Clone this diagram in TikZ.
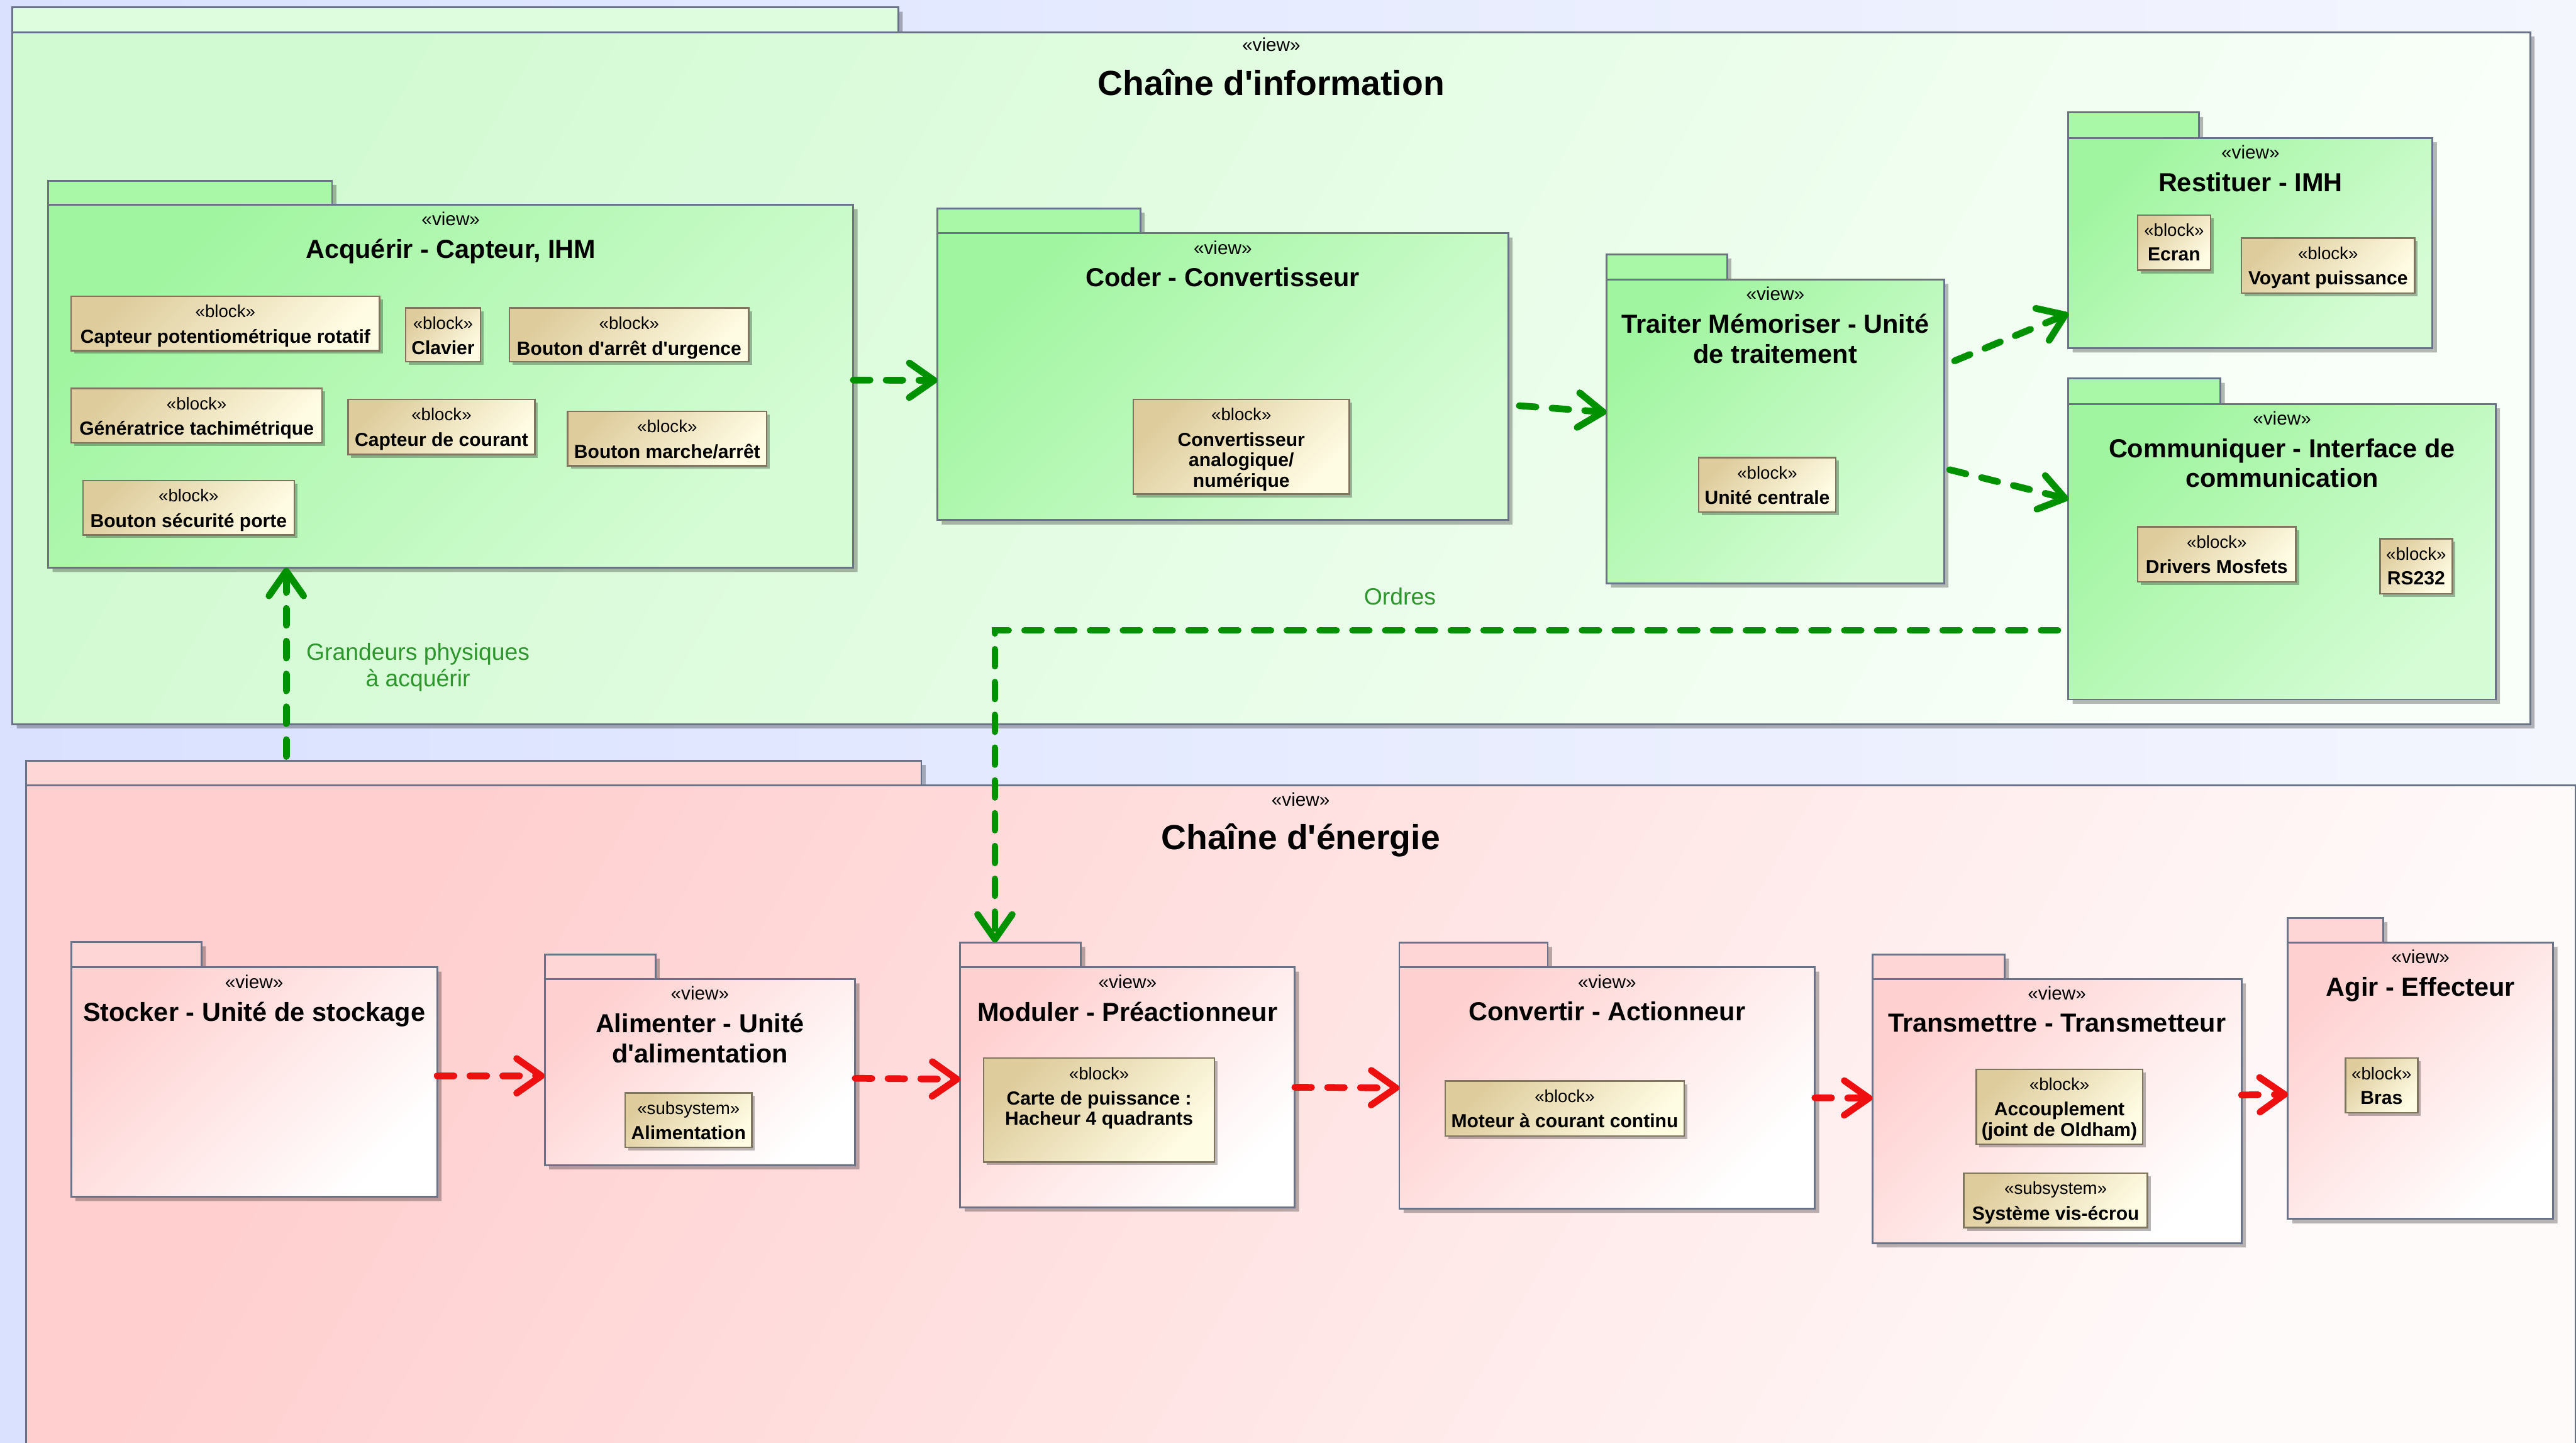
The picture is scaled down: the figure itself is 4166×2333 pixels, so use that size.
\documentclass[tikz,border=0pt]{standalone}
\usepackage{fontspec}
\setmainfont{Liberation Sans}
\newfontfamily\lsans{Liberation Sans}
\usetikzlibrary{arrows.meta,calc,fit}

% palette
\definecolor{bgL}{RGB}{217,225,255}
\definecolor{bgR}{RGB}{244,246,254}
\definecolor{ogL}{RGB}{210,250,210}
\definecolor{ogR}{RGB}{249,255,249}
\definecolor{ogTab}{RGB}{222,252,222}
\definecolor{igL}{RGB}{160,245,160}
\definecolor{igR}{RGB}{214,252,214}
\definecolor{igTab}{RGB}{168,248,168}
\definecolor{orL}{RGB}{255,206,206}
\definecolor{orR}{RGB}{255,250,250}
\definecolor{orTab}{RGB}{255,214,214}
\definecolor{irL}{RGB}{255,208,208}
\definecolor{irR}{RGB}{255,255,255}
\definecolor{irTab}{RGB}{255,214,214}
\definecolor{blkL}{RGB}{222,204,156}
\definecolor{blkR}{RGB}{255,252,228}
\definecolor{pkgborder}{RGB}{106,114,136}
\definecolor{blkborder}{RGB}{128,118,96}
\definecolor{flowgreen}{RGB}{0,145,0}
\definecolor{flowred}{RGB}{238,16,16}
\definecolor{lblgreen}{RGB}{45,150,45}

\tikzset{
  every node/.style={inner sep=0pt, outer sep=0pt},
  pkgline/.style={draw=pkgborder, line width=0.85pt},
  pkgshade/.style={fill=black, opacity=0.28},
  blkshade/.style={fill=black, opacity=0.28},
  ig body/.style={pkgline, left color=igL, right color=igR, shading angle=45},
  ig tab/.style={pkgline, fill=igTab},
  ir body/.style={pkgline, left color=irL, right color=irR, shading angle=45},
  ir tab/.style={pkgline, fill=irTab},
  og body/.style={pkgline, left color=ogL, right color=ogR, shading angle=60},
  og tab/.style={pkgline, fill=ogTab},
  or body/.style={pkgline, left color=orL, right color=orR, shading angle=60},
  or tab/.style={pkgline, fill=orTab},
  viewtxt/.style={font=\lsans\fontsize{8.6}{10}\selectfont, anchor=north},
  ttl/.style={font=\lsans\fontsize{12}{13.66}\selectfont\bfseries, align=center, anchor=north},
  bigttl/.style={font=\lsans\fontsize{16}{18}\selectfont\bfseries, align=center, anchor=north},
  ig view/.style={viewtxt, yshift=-0.12cm},
  ir view/.style={viewtxt, yshift=-0.12cm},
  og view/.style={viewtxt, yshift=-0.09cm},
  or view/.style={viewtxt, yshift=-0.11cm},
  ig title/.style={ttl, yshift=-0.56cm},
  ir title/.style={ttl, yshift=-0.56cm},
  og title/.style={bigttl, yshift=-0.60cm},
  or title/.style={bigttl, yshift=-0.62cm},
  blockbox/.style={draw=blkborder, line width=0.7pt, left color=blkL, right color=blkR, shading angle=45},
  sttxt/.style={font=\lsans\fontsize{8}{9}\selectfont, anchor=north, yshift=-0.14cm},
  blktxt/.style={font=\lsans\fontsize{8.7}{9.4}\selectfont\bfseries, align=center, anchor=north, yshift=-0.53cm},
  flow/.style={line width=3.1pt, dash pattern=on 0.27cm off 0.26cm, line cap=round,
    -{Straight Barb[length=4mm, width=5.6mm, round]}},
  gflow/.style={flow, draw=flowgreen},
  rflow/.style={flow, draw=flowred},
  lbl/.style={text=lblgreen, font=\lsans\fontsize{10.8}{11.95}\selectfont, align=center},
}

% package: name, left, tab right, tab top, body top, right, bottom, kind, title
\newcommand\umlpkg[9]{%
  \fill[pkgshade] (#2+7,#4+7) -- (#3+7,#4+7) -- (#3+7,#5+7) -- (#6+7,#5+7)
    -- (#6+7,#7+7) -- (#2+7,#7+7) -- cycle;
  \coordinate (#1-c) at (#2,#4);
  \coordinate (#1-d) at (#3,#5);
  \coordinate (#1-a) at (#2,#5);
  \coordinate (#1-b) at (#6,#7);
  \node[#8 tab, fit=(#1-c)(#1-d)] (#1-tab) {};
  \node[#8 body, fit=(#1-a)(#1-b)] (#1) {};
  \node[#8 view] at (#1.north) {«view»};
  \node[#8 title] at (#1.north) {#9};
}

% block: name, left, top, right, bottom, stereotype, text
\newcommand\umlblock[7]{%
  \fill[blkshade] (#2+5,#3+5) rectangle (#4+5,#5+5);
  \coordinate (#1-a) at (#2,#3);
  \coordinate (#1-b) at (#4,#5);
  \node[blockbox, fit=(#1-a)(#1-b)] (#1) {};
  \node[sttxt] at (#1.north) {«#6»};
  \node[blktxt] at (#1.north) {#7};
}

\begin{document}
\begin{tikzpicture}[x=0.01cm, y=-0.01cm]
\useasboundingbox (0,0) rectangle (4166,2333);
\clip (0,0) rectangle (4166,2333);
\shade[left color=bgL, right color=bgR] (0,0) rectangle (4166,2333);

% ---------- information chain ----------
\umlpkg{info}{20}{1453}{12}{52}{4092}{1171}{og}{Chaîne d'information}

\umlpkg{acq}{78}{537}{292}{331}{1380}{918}{ig}{Acquérir - Capteur, IHM}
\umlblock{cpot}{115}{479}{614}{567}{block}{Capteur potentiométrique rotatif}
\umlblock{clav}{656}{498}{777}{585}{block}{Clavier}
\umlblock{urg}{824}{498}{1211}{585}{block}{Bouton d'arrêt d'urgence}
\umlblock{gtach}{115}{628}{521}{716}{block}{Génératrice tachimétrique}
\umlblock{ccour}{563}{646}{865}{735}{block}{Capteur de courant}
\umlblock{bma}{918}{665}{1240}{753}{block}{Bouton marche/arrêt}
\umlblock{bsec}{134}{777}{476}{865}{block}{Bouton sécurité porte}

\umlpkg{coder}{1516}{1844}{337}{377}{2439}{841}{ig}{Coder - Convertisseur}
\umlblock{can}{1833}{646}{2182}{799}{block}{Convertisseur\\analogique/\\numérique}

\umlpkg{trait}{2598}{2793}{411}{452}{3144}{943}{ig}{Traiter Mémoriser - Unité\\de traitement}
\umlblock{uc}{2747}{740}{2969}{828}{block}{Unité centrale}

\umlpkg{rest}{3345}{3556}{182}{223}{3934}{563}{ig}{Restituer - IMH}
\umlblock{ecran}{3457}{348}{3575}{437}{block}{Ecran}
\umlblock{voyant}{3625}{385}{3905}{474}{block}{Voyant puissance}

\umlpkg{comm}{3345}{3591}{612}{653}{4036}{1131}{ig}{Communiquer - Interface de\\communication}
\umlblock{drv}{3457}{852}{3713}{941}{block}{Drivers Mosfets}
\umlblock{rs}{3849}{871}{3966}{960}{block}{RS232}

% ---------- energy chain ----------
\umlpkg{energ}{42}{1490}{1230}{1270}{4165}{2400}{or}{Chaîne d'énergie}

\umlpkg{stock}{115}{326}{1523}{1564}{707}{1935}{ir}{Stocker - Unité de stockage}

\umlpkg{alim}{881}{1060}{1543}{1583}{1383}{1884}{ir}{Alimenter - Unité\\d'alimentation}
\umlblock{alimss}{1011}{1767}{1216}{1855}{subsystem}{Alimentation}

\umlpkg{modul}{1553}{1748}{1524}{1564}{2094}{1952}{ir}{Moduler - Préactionneur}
\umlblock{hach}{1591}{1711}{1964}{1879}{block}{Carte de puissance :\\Hacheur 4 quadrants}

\umlpkg{conv}{2263}{2503}{1524}{1564}{2935}{1954}{ir}{Convertir - Actionneur}
\umlblock{mcc}{2337}{1748}{2724}{1837}{block}{Moteur à courant continu}

\umlpkg{trans}{3028}{3242}{1543}{1583}{3625}{2010}{ir}{Transmettre - Transmetteur}
\umlblock{oldham}{3196}{1729}{3465}{1850}{block}{Accouplement\\(joint de Oldham)}
\umlblock{visec}{3176}{1897}{3473}{1985}{subsystem}{Système vis-écrou}

\umlpkg{agir}{3700}{3854}{1484}{1524}{4129}{1971}{ir}{Agir - Effecteur}
\umlblock{bras}{3793}{1711}{3910}{1799}{block}{Bras}

% ---------- information flows ----------
\draw[gflow] ($(acq.east)+(0,-10)$) -- ($(coder.west)+(0,6)$);
\draw[gflow] ($(coder.east)+(18,47)$) -- ($(trait.west)+(0,-31)$);
\draw[gflow] ($(trait.east)+(17,-114)$) -- ($(rest.west)+(0,114)$);
\draw[gflow] ($(trait.east)+(9,62)$) -- ($(comm.west)+(0,-85)$);

% physical quantities entering the acquisition
\coordinate (gp) at ($(energ-tab.north west)+(421,-7)$);
\draw[gflow] (gp) -- (gp |- acq.south);
\node[lbl] (gplbl) at (676,1079) {Grandeurs physiques\\à acquérir};

% orders sent to the pre-actuator
\coordinate (ordA) at ($(comm.west)+(-17,127)$);
\coordinate (ordB) at ($(modul-tab.north west)+(56,0)$);
\draw[gflow] (ordA) -| (ordB);
\node[lbl] (ordlbl) at (2264,964) {Ordres};

% ---------- energy flows ----------
\draw[rflow] ($(stock.east)+(0,-10)$) -- ($(alim.west)+(0,6)$);
\draw[rflow] ($(alim.east)+(0,10)$) -- ($(modul.west)+(0,-13)$);
\draw[rflow] (modul.east) -- (conv.west);
\draw[rflow] ($(conv.east)+(0,16)$) -- ($(trans.west)+(0,-21)$);
\draw[rflow] ($(trans.east)+(0,-26)$) -- ($(agir.west)+(0,22)$);
\end{tikzpicture}
\end{document}
